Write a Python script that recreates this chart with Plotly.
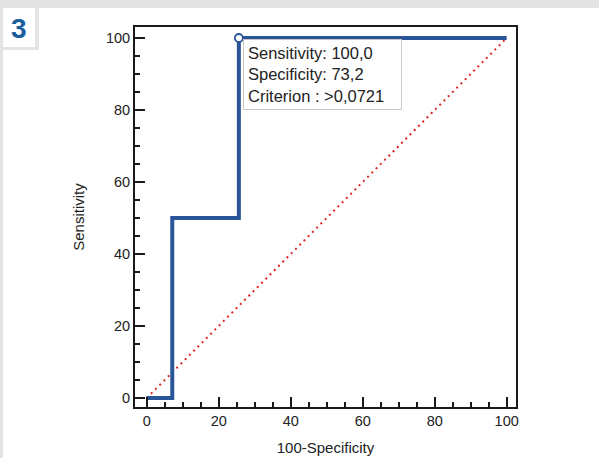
import plotly.graph_objects as go

# ROC curve data (100-Specificity, Sensitivity)
fpr = [0, 7.1, 7.1, 25.6, 25.6, 100]
tpr = [0, 0, 50, 50, 100, 100]
diag_x = [0, 100]
diag_y = [0, 100]
best_x = [25.6]
best_y = [100]
info_lines = ["Sensitivity: 100,0", "Specificity: 73,2", "Criterion : >0,0721"]
x_ticks = [0, 20, 40, 60, 80, 100]
y_ticks = [0, 20, 40, 60, 80, 100]

W, H = 599, 458
L, R, T, B = 135, 516, 27, 407


def px(xp):
    return (xp - L) / (R - L)


def py(yp):
    return (B - yp) / (B - T)


BLUE = "#2a5599"
GRAY = "#e4e4e4"
FONT = "Liberation Sans, Arial, sans-serif"

fig = go.Figure()
fig.add_trace(go.Scatter(x=diag_x, y=diag_y, mode="lines",
                         line=dict(color="#e02424", width=2, dash="2px,4px"),
                         hoverinfo="skip", showlegend=False))
fig.add_trace(go.Scatter(x=fpr, y=tpr, mode="lines",
                         line=dict(color=BLUE, width=4, shape="linear"),
                         showlegend=False))
fig.add_trace(go.Scatter(x=best_x, y=best_y, mode="markers",
                         marker=dict(symbol="circle", size=8, color="white",
                                     line=dict(color=BLUE, width=1.8)),
                         showlegend=False, cliponaxis=False))

axis_common = dict(
    showline=True, linecolor="#1a1a1a", linewidth=2, mirror=True,
    ticks="inside", ticklen=10, tickwidth=2, tickcolor="#1a1a1a",
    showgrid=False, zeroline=False, automargin=False,
    tickfont=dict(family=FONT, size=14.5, color="#222"),
    minor=dict(ticks="inside", ticklen=5, tickwidth=1.5, tickcolor="#1a1a1a", dtick=5, showgrid=False),
)

fig.update_xaxes(range=[(L - 146.7) / 3.6, (R - 146.7) / 3.6], tickvals=x_ticks,
                 title=dict(text="100-Specificity", font=dict(family=FONT, size=15, color="#222"), standoff=14),
                 **axis_common)
fig.update_yaxes(range=[(398 - B) / 3.6, (398 - T) / 3.6], tickvals=y_ticks,
                 title=dict(text="Sensitivity", font=dict(family=FONT, size=15, color="#222"), standoff=18),
                 **axis_common)

shapes = [
    dict(type="rect", xref="paper", yref="paper", x0=px(0), x1=px(W), y0=py(0), y1=py(8),
         fillcolor=GRAY, line=dict(width=0), layer="above"),
    dict(type="rect", xref="paper", yref="paper", x0=px(0), x1=px(3), y0=py(0), y1=py(H),
         fillcolor=GRAY, line=dict(width=0), layer="above"),
    dict(type="rect", xref="paper", yref="paper", x0=px(35), x1=px(39), y0=py(0), y1=py(50),
         fillcolor=GRAY, line=dict(width=0), layer="above"),
    dict(type="rect", xref="paper", yref="paper", x0=px(0), x1=px(39), y0=py(47), y1=py(50),
         fillcolor=GRAY, line=dict(width=0), layer="above"),
]

annotations = [
    dict(text="<b>3</b>", xref="paper", yref="paper", x=px(19), y=py(28),
         xanchor="center", yanchor="middle", showarrow=False,
         font=dict(family=FONT, size=28, color="#1b5e9e")),
    dict(text="<br>".join(info_lines), xref="paper", yref="paper", x=px(242.7), y=py(39.3),
         xanchor="left", yanchor="top", showarrow=False, align="left", width=149,
         bgcolor="white", bordercolor="#c8c8c8", borderwidth=1, borderpad=4,
         font=dict(family=FONT, size=16.5, color="#222")),
]

fig.update_layout(
    width=W, height=H,
    margin=dict(l=L, r=W - R, t=T, b=H - B, pad=0, autoexpand=False),
    paper_bgcolor="white", plot_bgcolor="white",
    shapes=shapes, annotations=annotations,
    showlegend=False,
)

fig.write_html("out.html", config={"displayModeBar": False},
               post_script="document.body.style.margin='0px';document.body.style.overflow='hidden';")
